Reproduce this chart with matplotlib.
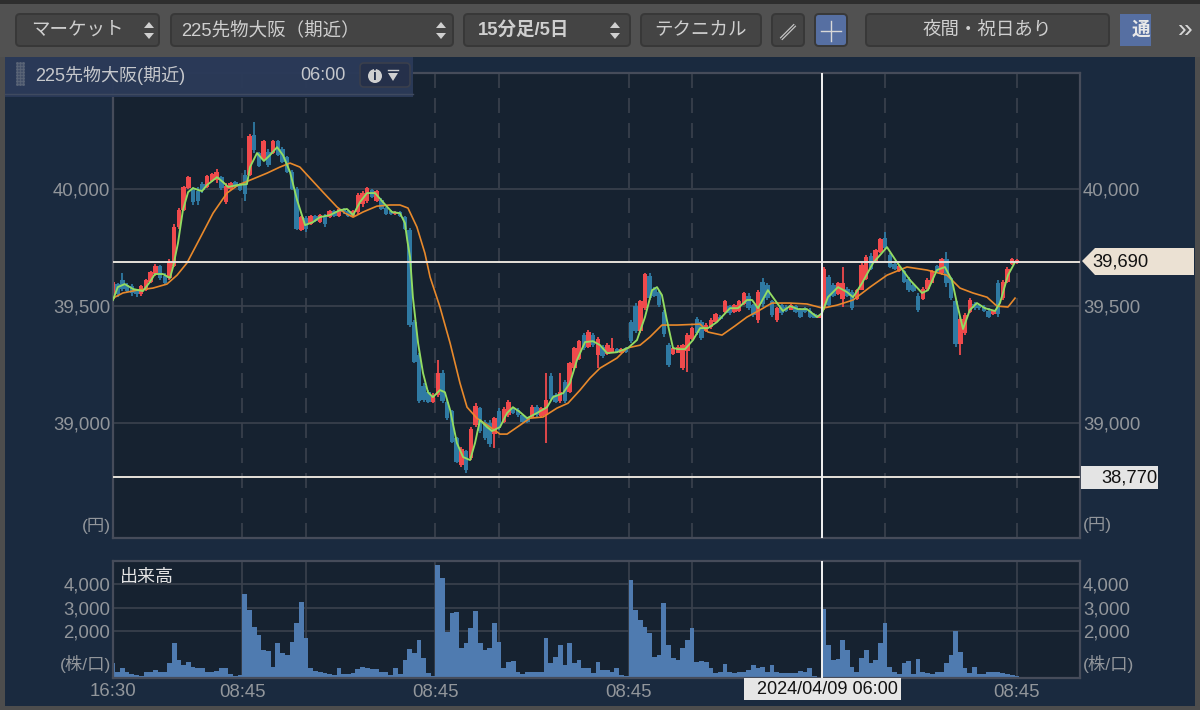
import matplotlib
matplotlib.use('Agg')
import matplotlib.pyplot as plt
from matplotlib.patches import FancyBboxPatch, Polygon, Rectangle, Circle

plt.rcParams['font.family'] = ['Liberation Sans', 'Noto Sans CJK JP', 'DejaVu Sans']

# candles, one for every 2 bars of the 15 minute chart
opens = [39530, 39595, 39610, 39590, 39585, 39570, 39550, 39570, 39605, 39635, 39670, 39630, 39620, 39670, 39840, 39910,
         40005, 40005, 39990, 40020, 40010, 40035, 40040, 40050, 39945, 40000, 40030, 40020, 40060, 40060, 40230, 40155,
         40130, 40160, 40155, 40205, 40170, 40135, 40075, 40000, 39825, 39875, 39850, 39885, 39860, 39885, 39880, 39905,
         39885, 39915, 39905, 39885, 39900, 39935, 39950, 39995, 39950, 39955, 39920, 39905, 39892, 39900, 39880, 39825,
         39430, 39290, 39160, 39135, 39090, 39120, 39215, 39090, 39050, 38935, 38820, 38880, 38850, 38990, 39065, 39005,
         39000, 38955, 39050, 39005, 39035, 39065, 39055, 39035, 39020, 39025, 39070, 39030, 39035, 39200, 39120, 39095,
         39175, 39135, 39235, 39275, 39375, 39325, 39375, 39290, 39325, 39295, 39300, 39315, 39300, 39320, 39430, 39500,
         39395, 39490, 39630, 39575, 39560, 39475, 39335, 39295, 39300, 39235, 39310, 39360, 39445, 39430, 39395, 39410,
         39430, 39455, 39475, 39500, 39475, 39480, 39510, 39545, 39505, 39440, 39605, 39590, 39520, 39440, 39505, 39495,
         39485, 39500, 39485, 39490, 39480, 39465, 39450, 39490, 39625, 39590, 39550, 39530, 39575, 39560, 39530, 39570,
         39615, 39715, 39690, 39730, 39790, 39720, 39680, 39650, 39650, 39615, 39590, 39545, 39530, 39575, 39600, 39670,
         39640, 39700, 39620, 39520, 39340, 39385, 39475, 39510, 39505, 39495, 39480, 39465, 39600, 39535, 39605, 39680,
         39685]
closes = [39605, 39550, 39575, 39565, 39555, 39550, 39585, 39610, 39645, 39670, 39620, 39600, 39690, 39840, 39910, 40010,
          40050, 39945, 39950, 39995, 40055, 40065, 40075, 40005, 40015, 40025, 40010, 39995, 39980, 40225, 40165, 40100,
          40205, 40105, 40205, 40145, 40115, 40075, 40000, 39830, 39880, 39830, 39885, 39865, 39890, 39850, 39905, 39885,
          39915, 39900, 39885, 39905, 39975, 39985, 40005, 39965, 39990, 39915, 39895, 39895, 39903, 39885, 39830, 39420,
          39260, 39095, 39100, 39090, 39120, 39215, 39095, 39020, 38920, 38835, 38890, 38800, 38975, 39075, 38965, 38935,
          38910, 39020, 38980, 39060, 39090, 39045, 39035, 39005, 39005, 39070, 39035, 39065, 39100, 39105, 39090, 39135,
          39095, 39255, 39320, 39350, 39320, 39390, 39335, 39360, 39285, 39335, 39320, 39302, 39315, 39302, 39350, 39395,
          39520, 39635, 39535, 39545, 39505, 39380, 39250, 39320, 39325, 39335, 39375, 39405, 39385, 39365, 39420, 39440,
          39465, 39445, 39520, 39470, 39505, 39520, 39555, 39490, 39460, 39560, 39510, 39535, 39460, 39490, 39470, 39480,
          39505, 39475, 39455, 39475, 39455, 39450, 39460, 39660, 39505, 39545, 39600, 39600, 39545, 39490, 39570, 39675,
          39710, 39660, 39740, 39785, 39750, 39665, 39660, 39670, 39605, 39570, 39565, 39485, 39575, 39610, 39650, 39645,
          39700, 39600, 39535, 39340, 39445, 39460, 39525, 39490, 39490, 39480, 39455, 39480, 39465, 39605, 39660, 39700,
          39695]
highs = [39610, 39600, 39640, 39600, 39595, 39575, 39590, 39615, 39650, 39680, 39675, 39640, 39700, 39850, 39920, 40015,
         40055, 40010, 40010, 40030, 40060, 40070, 40085, 40055, 40025, 40030, 40035, 40025, 40080, 40235, 40285, 40160,
         40210, 40170, 40210, 40210, 40180, 40140, 40080, 40010, 39885, 39885, 39890, 39890, 39895, 39895, 39910, 39910,
         39918, 39918, 39910, 39910, 39982, 39990, 40010, 40000, 39995, 39960, 39925, 39910, 39905, 39905, 39885, 39835,
         39440, 39298, 39170, 39141, 39127, 39270, 39227, 39098, 39056, 38942, 38899, 38885, 38985, 39084, 39070, 39013,
         39013, 39027, 39063, 39070, 39098, 39070, 39063, 39041, 39027, 39077, 39077, 39070, 39212, 39212, 39127, 39212,
         39184, 39262, 39326, 39355, 39383, 39398, 39383, 39369, 39333, 39341, 39362, 39319, 39319, 39326, 39440, 39512,
         39526, 39640, 39640, 39583, 39569, 39483, 39341, 39326, 39333, 39340, 39385, 39412, 39454, 39440, 39426, 39447,
         39469, 39462, 39526, 39504, 39511, 39526, 39561, 39554, 39511, 39568, 39618, 39597, 39526, 39497, 39511, 39504,
         39511, 39504, 39490, 39497, 39490, 39469, 39462, 39668, 39632, 39597, 39604, 39668, 39583, 39568, 39575, 39682,
         39718, 39725, 39746, 39789, 39818, 39725, 39689, 39675, 39654, 39625, 39597, 39554, 39583, 39618, 39654, 39675,
         39704, 39732, 39625, 39526, 39454, 39469, 39533, 39518, 39511, 39504, 39490, 39483, 39611, 39611, 39668, 39704,
         39703]
lows = [39525, 39540, 39565, 39560, 39545, 39540, 39545, 39565, 39600, 39630, 39610, 39590, 39610, 39665, 39830, 39905,
        40000, 39930, 39930, 39985, 40005, 40030, 40025, 39995, 39935, 39995, 40005, 39990, 39950, 40055, 40155, 40095,
        40125, 40095, 40150, 40140, 40110, 40070, 39995, 39825, 39820, 39818, 39845, 39860, 39855, 39840, 39875, 39880,
        39880, 39895, 39882, 39882, 39895, 39925, 39940, 39960, 39945, 39910, 39890, 39890, 39890, 39880, 39825, 39410,
        39255, 39084, 39091, 39084, 39084, 39113, 39084, 39013, 38913, 38828, 38814, 38785, 38842, 38985, 38956, 38928,
        38899, 38892, 38970, 38999, 39027, 39041, 39027, 38999, 38999, 39020, 39027, 39027, 38913, 39098, 39084, 39084,
        39084, 39127, 39227, 39270, 39312, 39319, 39326, 39234, 39277, 39291, 39298, 39298, 39298, 39298, 39341, 39383,
        39383, 39483, 39526, 39540, 39497, 39369, 39241, 39291, 39298, 39227, 39220, 39355, 39376, 39355, 39390, 39404,
        39426, 39440, 39469, 39462, 39469, 39476, 39504, 39483, 39454, 39426, 39497, 39526, 39454, 39433, 39461, 39476,
        39483, 39469, 39447, 39469, 39447, 39447, 39447, 39483, 39497, 39540, 39547, 39497, 39540, 39483, 39526, 39568,
        39611, 39654, 39682, 39725, 39746, 39661, 39654, 39647, 39597, 39561, 39561, 39476, 39526, 39568, 39597, 39640,
        39632, 39583, 39526, 39326, 39291, 39376, 39469, 39483, 39483, 39476, 39447, 39461, 39454, 39526, 39597, 39675,
        39680]

# moving averages (bar number, price)
green_bars = [0, 2, 5, 8.5, 12.7, 15.7, 17.8, 21.2, 24.2, 25.5, 27.6, 29.7, 31.9, 34, 37.8, 39.9, 44.2, 46.7, 48.9, 52.7,
              56.9, 58.2, 61.2, 64.1, 66.7, 69.7, 72.2, 75.2, 78.2, 81.6, 85, 87.9, 92.2, 96.4, 99.4, 102, 104.9, 107.9,
              111.3, 114.7, 118.5, 121.9, 124, 125, 126.2, 127.4, 129.6, 131.7, 133.8, 135.9, 138.9, 141, 143.2, 146.1,
              148.7, 151.7, 153.8, 155.9, 158.9, 161, 164.4, 167.4, 169.9, 172.9, 175.9, 180.1, 184.4, 186.9, 191.2,
              194.1, 197.1, 200.5, 203.9, 206.9, 209.9, 214.1, 218.8, 222.6, 226, 229, 231.1, 233.2, 235.3, 237.9, 240,
              243, 246.4, 249.4, 252.8, 256.6, 262.1, 265.5, 269.3, 271.5, 274, 278.2, 282.1, 284.6, 287.6, 291, 294.8,
              299.1, 301.2, 303.7, 308, 311.8, 314.4, 318.2, 322.9, 328.8, 333, 338.6, 343.7, 346.2, 350, 353.4, 356.4,
              358.5, 361.1, 364, 367, 370.4, 374.7, 376.8, 380.2, 383.2]
green_vals = [39526, 39581, 39594, 39573, 39564, 39603, 39637, 39637, 39620, 39667, 39769, 39910, 39987, 40004, 39991, 40017,
              40051, 40030, 40009, 40017, 40021, 40094, 40154, 40120, 40145, 40179, 40145, 40073, 39953, 39846, 39859,
              39880, 39889, 39910, 39915, 39889, 39944, 39983, 39983, 39944, 39902, 39897, 39855, 39782, 39709, 39538,
              39342, 39214, 39132, 39111, 39141, 39132, 39056, 38915, 38855, 38842, 38915, 39013, 38983, 38966, 38983,
              39043, 39068, 39047, 39021, 39043, 39068, 39111, 39128, 39171, 39269, 39346, 39350, 39333, 39299, 39303,
              39321, 39355, 39453, 39568, 39581, 39547, 39440, 39321, 39316, 39316, 39355, 39406, 39406, 39432, 39491,
              39491, 39526, 39526, 39491, 39568, 39513, 39479, 39500, 39487, 39487, 39453, 39470, 39538, 39581, 39560,
              39538, 39598, 39684, 39752, 39688, 39611, 39556, 39568, 39654, 39667, 39611, 39513, 39402, 39483, 39513,
              39491, 39479, 39513, 39632, 39688]
orange_bars = [0, 4.2, 10.2, 17, 22.9, 27.2, 31.4, 37, 42.5, 48.4, 53.1, 58.2, 65.4, 70.9, 75.2, 79.4, 83.7, 89.2, 95.2,
               98.6, 102, 106.2, 112.1, 117.7, 121.9, 125.3, 129.1, 132.5, 134.7, 138.9, 143.2, 147.4, 150.4, 154.6,
               160.2, 164.4, 167.4, 172.9, 177.1, 182.7, 188.6, 193.3, 198.4, 202.6, 206.9, 214.1, 218.4, 223.9, 228.1,
               233.2, 239.6, 249.4, 252.8, 258.7, 264.2, 269.3, 274.8, 279.9, 287.6, 294.8, 301.6, 307.6, 314.4, 321.6,
               328.8, 337.3, 345.8, 354.3, 359.8, 365.3, 371.3, 375.5, 380.2, 383.2]
orange_vals = [39534, 39556, 39568, 39577, 39594, 39632, 39684, 39791, 39897, 39983, 40017, 40038, 40068, 40094, 40111,
               40094, 40047, 39987, 39923, 39897, 39880, 39902, 39927, 39932, 39932, 39919, 39838, 39726, 39624, 39496,
               39342, 39171, 39068, 39021, 38983, 38953, 38953, 38991, 39021, 39026, 39064, 39085, 39141, 39192, 39235,
               39278, 39321, 39333, 39368, 39419, 39419, 39423, 39389, 39376, 39415, 39453, 39483, 39513, 39513, 39509,
               39491, 39504, 39526, 39581, 39632, 39667, 39654, 39632, 39577, 39556, 39538, 39500, 39496, 39534]

volumes = [625, 270, 410, 270, 160, 115, 100, 240, 270, 330, 270, 270, 625, 1510, 770, 555, 700, 480, 410, 440,
           240, 270, 310, 440, 440, 160, 100, 130, 3560, 2890, 2190, 1830, 1190, 1150, 480, 1510, 1050, 980, 1520, 2360,
           3220, 1690, 410, 300, 240, 200, 160, 130, 440, 160, 160, 200, 380, 460, 440, 370, 380, 240, 270, 130,
           440, 160, 770, 1220, 1050, 1620, 840, 200, 100, 4810, 4240, 1970, 2750, 2800, 1260, 1480, 2110, 2850, 1480, 1190,
           1260, 2330, 1550, 410, 700, 725, 270, 160, 270, 240, 240, 270, 1720, 625, 910, 1400, 555, 1510, 625, 770,
           410, 410, 200, 700, 340, 340, 270, 410, 130, 100, 4170, 2890, 2470, 2190, 1900, 910, 980, 3210, 1400, 840,
           770, 1260, 1620, 2110, 700, 725, 670, 410, 200, 270, 580, 240, 200, 270, 270, 340, 555, 440, 480, 270,
           555, 270, 200, 200, 200, 200, 310, 240, 410, 100, 50, 2940, 1400, 770, 810, 1620, 1190, 480, 270, 840,
           1190, 625, 770, 1480, 2330, 480, 270, 160, 625, 725, 160, 810, 240, 200, 160, 240, 270, 625, 980, 2000,
           1120, 410, 200, 480, 160, 170, 240, 270, 270, 200, 160, 130, 70]

price_ticks = [39000, 39500, 40000]
volume_ticks = [2000, 3000, 4000]
session_bars = [55, 82, 137, 164, 219, 246, 301, 328, 384]
time_ticks = [55, 137, 219, 384]
time_labels = ['08:45', '08:45', '08:45', '08:45']
start_label = '16:30'
crosshair_bar = 301
last_price = 39690
low_price = 38770

PANEL = '#1a2a3f'
PLOT_BG = '#162230'
GRID = '#3b424e'
FRAME = '#464c5a'
TICK = '#92969b'
RED = '#f04a4c'
BLUE = '#2f7aa3'
LINE_WHITE = '#e6e2da'

W, H = 1200, 710
fig = plt.figure(figsize=(W / 100, H / 100), dpi=100, facecolor=PANEL)


def make_axes(top, bottom):
    ax = fig.add_axes([113 / W, 1 - bottom / H, (1080 - 113) / W, (bottom - top) / H], facecolor=PLOT_BG)
    for s in ax.spines.values():
        s.set_color(FRAME)
        s.set_linewidth(1.6)
    ax.set_xlim(0, 410.8)
    ax.tick_params(length=0, colors=TICK, labelsize=13.4, labelleft=True, labelright=True, pad=2)
    ax.yaxis.set_major_formatter(lambda v, pos: f'{int(v):,}')
    ax.set_axisbelow(True)
    return ax


ax = make_axes(73, 538)
ax.set_ylim(38509, 40496)
ax.set_yticks(price_ticks)
ax.set_xticks(session_bars)
ax.tick_params(labelbottom=False)
ax.grid(axis='y', color=GRID, lw=1.2)
ax.grid(axis='x', color=GRID, lw=1.2, linestyle=(0, (9, 6)))

bars_x = [i * 2 for i in range(len(opens))]
colors = [RED if c >= o else BLUE for o, c in zip(opens, closes)]
ax.vlines(bars_x, lows, highs, colors=colors, lw=1.3, zorder=2)
ax.bar(bars_x, [c - o for o, c in zip(opens, closes)], bottom=opens, width=1.9, color=colors, lw=0, zorder=2)
ax.plot(orange_bars, orange_vals, color='#e8892b', lw=1.2, zorder=3, solid_joinstyle='round')
ax.plot(green_bars, green_vals, color='#93dc62', lw=1.35, zorder=4, solid_joinstyle='round')
ax.axhline(last_price, color=LINE_WHITE, lw=1.4, zorder=5)
ax.axhline(low_price, color=LINE_WHITE, lw=1.4, zorder=5)
ax.axvline(crosshair_bar, color='#f2f2f2', lw=1.4, zorder=5)

vol = make_axes(561, 678)
vol.set_ylim(0, 4979)
vol.set_yticks(volume_ticks)
vol.set_xticks(session_bars)
vol.set_xticklabels([time_labels[time_ticks.index(b)] if b in time_ticks else '' for b in session_bars])
vol.grid(color=GRID, lw=1.2)
vol.bar(bars_x, volumes, width=2.0, color='#4f7bb0', lw=0, zorder=2)
vol.axvline(crosshair_bar, color='#f2f2f2', lw=1.4, zorder=5)
vol.tick_params(axis='x', pad=4)
vol.text(0.007, 0.855, '出来高', transform=vol.transAxes, color='#e4e4e4', fontsize=13, va='center')
# first time label sits on the axis start
fig.text(113 / W, 1 - 691 / H, start_label, color=TICK, fontsize=13.4, ha='center', va='center')

# toolbar, header and labels in pixel coordinates
ui = fig.add_axes([0, 0, 1, 1], facecolor='none', zorder=10)
ui.set_xlim(0, W)
ui.set_ylim(H, 0)
ui.axis('off')

ui.add_patch(Rectangle((0, 0), W, 57, color='#515151', lw=0))
ui.add_patch(Rectangle((0, 0), W, 4, color='#2e2e2e', lw=0))
ui.add_patch(Rectangle((0, 57), 5, H, color='#4d4d4d', lw=0))
ui.add_patch(Rectangle((1195, 57), 5, H, color='#4d4d4d', lw=0))
ui.add_patch(Rectangle((0, 706), W, 4, color='#4d4d4d', lw=0))


def button(x0, x1, label='', color='#444444', bold=False, text_x=None):
    ui.add_patch(FancyBboxPatch((x0 + 1, 14), x1 - x0 - 2, 32, boxstyle='round,pad=0,rounding_size=4',
                                fc=color, ec='#383838', lw=1.4))
    if label:
        cx = text_x if text_x else (x0 + x1) / 2
        ui.text(cx, 30, label, color='#cfcfcf', fontsize=13.3, ha='center', va='center',
                fontweight='bold' if bold else 'normal')


def updown(x):
    ui.add_patch(Polygon([(x - 5, 28), (x + 5, 28), (x, 22)], color='#d0d0d0', lw=0))
    ui.add_patch(Polygon([(x - 5, 33), (x + 5, 33), (x, 39)], color='#d0d0d0', lw=0))


button(15, 160, 'マーケット', text_x=77)
updown(149)
button(170, 454, '225先物大阪（期近）', text_x=270)
updown(441)
button(463, 631, '15分足/5日', bold=True, text_x=524)
updown(615)
button(640, 762, 'テクニカル')
button(771, 805)
ui.plot([781, 795], [39, 25], color='#c4c4c4', lw=2.6, solid_capstyle='butt')
ui.plot([781, 795], [39, 25], color='#444444', lw=0.8, solid_capstyle='butt')
button(814, 848, color='#566fa2')
ui.plot([821, 841], [31, 31], color='#d8d8d8', lw=1)
ui.plot([831, 831], [21, 41], color='#d8d8d8', lw=1)
button(865, 1110, '夜間・祝日あり')
ui.add_patch(Rectangle((1120, 14), 31, 32, color='#566fa2', lw=0))
ui.text(1141, 30, '通', color='#e8e8e8', fontsize=13.3, ha='center', va='center', fontweight='bold')
ui.add_patch(Rectangle((1151, 10), 30, 40, color='#515151', lw=0))
ui.text(1185, 30, '»', color='#d8d8d8', fontsize=19, ha='center', va='center')

# header strip over the chart
ui.add_patch(Rectangle((5, 57), 408, 40, color='#2b3a58', lw=0, alpha=0.97))
ui.plot([5, 413], [94, 94], color='#3f4a60', lw=1)
for dx in (17, 20, 23):
    ui.plot([dx] * 8, [63 + 3 * k for k in range(8)], ls='none', marker='s', ms=1, color='#5b6577')
ui.text(35, 75, '225先物大阪(期近)', color='#c6c8cc', fontsize=13, va='center')
ui.text(346, 75, '06:00', color='#c6c8cc', fontsize=13, ha='right', va='center')
ui.add_patch(FancyBboxPatch((360, 63), 50, 24, boxstyle='round,pad=0,rounding_size=4', fc='#25304a', ec='#3a3f4c', lw=1.2))
ui.add_patch(Circle((375, 76), 7, color='#d0d0d0', lw=0))
ui.text(375, 76, 'i', color='#25304a', fontsize=10, fontweight='bold', ha='center', va='center')
ui.plot([388, 398], [70, 70], color='#d0d0d0', lw=1)
ui.add_patch(Polygon([(388, 73), (398, 73), (393, 81)], color='#d0d0d0', lw=0))

# price labels
ui.add_patch(Polygon([(1082, 261), (1095, 248), (1194, 248), (1194, 275), (1095, 275)], color='#ebe1d3', lw=0))
ui.text(1092, 262, f'{last_price:,}', color='#111111', fontsize=13.2, va='center')
ui.add_patch(Rectangle((1081, 466), 77, 23, color='#e4e4e4', lw=0))
ui.text(1157, 478, f'{low_price:,}', color='#111111', fontsize=13.2, ha='right', va='center')
ui.text(111, 526, '(円)', color=TICK, fontsize=12.5, ha='right', va='center')
ui.text(1083, 525, '(円)', color=TICK, fontsize=12.5, va='center')
ui.text(111, 664, '(株/口)', color=TICK, fontsize=12.5, ha='right', va='center')
ui.text(1083, 664, '(株/口)', color=TICK, fontsize=12.5, va='center')
ui.add_patch(Rectangle((744, 678), 157, 22, color='#e6e6e6', lw=0))
ui.text(827, 689, '2024/04/09 06:00', color='#111111', fontsize=13.1, ha='center', va='center')

fig.savefig('out.png', dpi=100, facecolor=fig.get_facecolor())
